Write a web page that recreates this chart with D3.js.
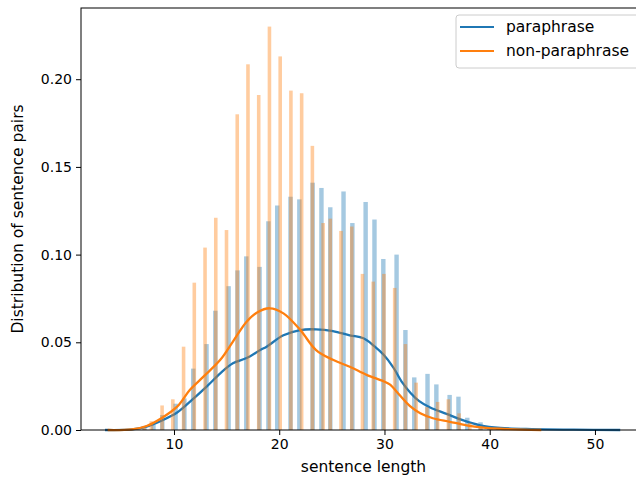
<!DOCTYPE html>
<html><head><meta charset="utf-8">
<script src="https://cdn.jsdelivr.net/npm/d3@7/dist/d3.min.js"></script>
<style>
body{margin:0;background:#fff}
svg{display:block}
text{font-family:"DejaVu Sans",sans-serif;fill:#000}
</style>
</head><body>
<svg id="chart" width="636" height="480"></svg>
<script>
// ---- data ----
const seriesNames = ["paraphrase", "non-paraphrase"];
const seriesColors = ["#1f77b4", "#ff7f0e"];

// histogram (density) of sentence lengths
const paraLengths = [7,8,9,10,11,12,13,14,15,16,17,18,19,20,21,22,23,24,25,26,27,28,29,30,31,32,33,34,35,36,37,38,39,40,41,42,43,45,49];
const paraDensity = [0.001,0.003,0.0085,0.015,0.018,0.035,0.049,0.068,0.082,0.091,0.099,0.093,0.119,0.128,0.133,0.1315,0.141,0.138,0.127,0.136,0.118,0.130,0.120,0.0975,0.100,0.057,0.030,0.032,0.026,0.020,0.019,0.007,0.0044,0.0015,0.001,0.0006,0.0004,0.0003,0.0002];
const paraBins = {lo: 7, hi: 49, n: 100};

const nonLengths = [7,8,9,10,11,12,13,14,15,16,17,18,19,20,21,22,23,24,25,26,27,28,29,30,31,32,33,34,35,36,37,38,39,40,41];
const nonDensity = [0.0015,0.005,0.014,0.0175,0.0475,0.084,0.104,0.121,0.114,0.180,0.2085,0.191,0.230,0.213,0.1935,0.192,0.162,0.118,0.1205,0.1135,0.116,0.089,0.0846,0.089,0.081,0.049,0.027,0.013,0.016,0.0175,0.0095,0.004,0.002,0.001,0.0005];
const nonBins = {lo: 7, hi: 41, n: 100};

// KDE curves
const paraKdeX = [3.45,6.0,7.4,8.8,10.3,11.5,13.1,14.4,15.6,16.9,18.2,18.8,20.4,22.0,23.5,25.1,26.7,28.0,29.0,29.9,30.8,31.7,32.5,33.3,34.3,35.9,37.5,39.1,41.0,44.0,48.0,52.4];
const paraKdeY = [0,0.0003,0.0019,0.0053,0.010,0.016,0.0247,0.0323,0.038,0.041,0.0456,0.0475,0.054,0.057,0.0574,0.0564,0.054,0.0523,0.048,0.043,0.036,0.027,0.021,0.0165,0.013,0.0092,0.0055,0.0027,0.0012,0.0005,0.0002,0];
const nonKdeX = [3.7,6.0,7.4,8.8,10.3,11.5,12.8,14.4,15.6,16.9,17.9,19.1,20.4,22.0,23.5,25.1,26.7,28.3,29.9,30.5,31.5,32.4,33.4,34.6,36.2,37.8,39.4,41.0,44.9];
const nonKdeY = [0,0.0004,0.0023,0.0067,0.0133,0.0228,0.0304,0.040,0.0504,0.0617,0.067,0.0694,0.0665,0.057,0.0456,0.040,0.0361,0.0314,0.0278,0.026,0.0195,0.0137,0.0095,0.0067,0.0047,0.0027,0.0014,0.0007,0];

const xTicks = [10,20,30,40,50];
const yTicks = [0,0.05,0.10,0.15,0.20];
const xLabel = "sentence length";
const yLabel = "Distribution of sentence pairs";

// ---- layout ----
const mLeft = 81, mRight = 646, mTop = 8, mBottom = 430;
const svg = d3.select("#chart");
const x = d3.scaleLinear().domain([1.164, 54.85]).range([mLeft, mRight]);
const y = d3.scaleLinear().domain([0, 0.2406]).range([mBottom, mTop]);

function binStart(L, b) {
  const w = (b.hi - b.lo) / b.n;
  const i = Math.min(Math.floor((L - b.lo) / w + 1e-9), b.n - 1);
  return [b.lo + i * w, w];
}

function drawHist(lengths, vals, bins, color) {
  svg.append("g").selectAll("rect")
    .data(lengths.map((L, i) => ({L, v: vals[i]})))
    .join("rect")
    .attr("x", d => x(binStart(d.L, bins)[0]))
    .attr("width", d => { const [s, w] = binStart(d.L, bins); return x(s + w) - x(s); })
    .attr("y", d => y(d.v))
    .attr("height", d => y(0) - y(d.v))
    .attr("fill", color)
    .attr("fill-opacity", 0.4);
}
function drawKde(xs, ys, color) {
  const line = d3.line().x(d => x(d[0])).y(d => y(d[1])).curve(d3.curveCatmullRom.alpha(0.5));
  svg.append("path")
    .datum(xs.map((v, i) => [v, ys[i]]))
    .attr("d", line)
    .attr("fill", "none")
    .attr("stroke", color)
    .attr("stroke-width", 2.3)
    .attr("stroke-linejoin", "round")
    .attr("stroke-linecap", "butt");
}

drawHist(paraLengths, paraDensity, paraBins, seriesColors[0]);
drawKde(paraKdeX, paraKdeY, seriesColors[0]);
drawHist(nonLengths, nonDensity, nonBins, seriesColors[1]);
drawKde(nonKdeX, nonKdeY, seriesColors[1]);

// ---- axes ----
const xAxis = d3.axisBottom(x).tickValues(xTicks).tickFormat(d3.format("d")).tickSizeInner(5).tickSizeOuter(0).tickPadding(4);
const yAxis = d3.axisLeft(y).tickValues(yTicks).tickFormat(d3.format(".2f")).tickSizeInner(5).tickSizeOuter(0).tickPadding(4);
const gx = svg.append("g").attr("transform", `translate(0,${mBottom})`).call(xAxis);
const gy = svg.append("g").attr("transform", `translate(${mLeft},0)`).call(yAxis);
[gx, gy].forEach(g => {
  g.select(".domain").remove();
  g.selectAll(".tick line").attr("stroke", "#000").attr("stroke-width", 1);
  g.selectAll(".tick text").attr("font-family", "DejaVu Sans").attr("font-size", 14).attr("fill", "#000");
});
// frame
svg.append("rect").attr("x", mLeft).attr("y", mTop).attr("width", mRight - mLeft).attr("height", mBottom - mTop)
  .attr("fill", "none").attr("stroke", "#000").attr("stroke-width", 1);

svg.append("text").attr("x", (mLeft + mRight) / 2).attr("y", 472).attr("text-anchor", "middle")
  .attr("font-size", 15.5).text(xLabel);
svg.append("text").attr("transform", `translate(23,${(mTop + mBottom) / 2}) rotate(-90)`).attr("text-anchor", "middle")
  .attr("font-size", 15.5).text(yLabel);

// ---- legend ----
const lg = svg.append("g");
lg.append("rect").attr("x", 456).attr("y", 15).attr("width", 184).attr("height", 53).attr("rx", 3)
  .attr("fill", "#fff").attr("fill-opacity", 0.8).attr("stroke", "#cccccc").attr("stroke-width", 1);
seriesNames.forEach((name, i) => {
  const yy = 27 + i * 24;
  lg.append("line").attr("x1", 460).attr("x2", 494).attr("y1", yy).attr("y2", yy)
    .attr("stroke", seriesColors[i]).attr("stroke-width", 2.2);
  lg.append("text").attr("x", 506).attr("y", yy).attr("dy", "0.35em").attr("font-size", 15.5).text(name);
});
</script>
</body></html>
